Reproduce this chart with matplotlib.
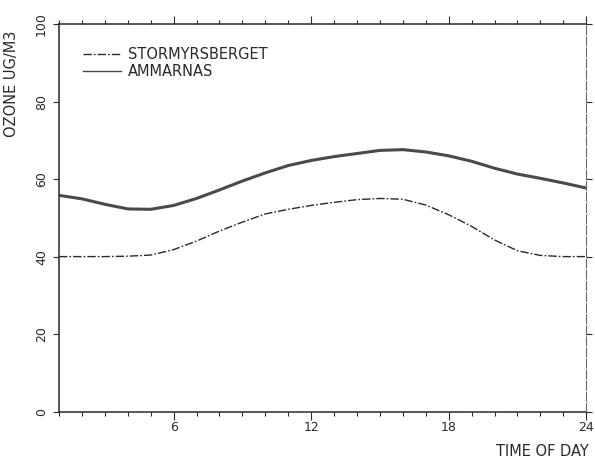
import numpy as np
import matplotlib
matplotlib.use("Agg")
import matplotlib.pyplot as plt
from matplotlib.ticker import MultipleLocator

# timmar och ozonvärden (läst ur figuren)
hours = np.arange(1, 25)
stormyrsberget = [40.0, 40.0, 40.0, 40.1, 40.4, 41.8, 44.0, 46.6, 48.9, 51.0, 52.2, 53.2,
                  54.0, 54.7, 55.0, 54.8, 53.3, 50.8, 47.8, 44.3, 41.5, 40.3, 40.0, 40.0]
ammarnas = [55.8, 54.9, 53.5, 52.3, 52.2, 53.2, 55.0, 57.2, 59.5, 61.6, 63.5, 64.8,
            65.8, 66.6, 67.4, 67.6, 67.0, 66.0, 64.6, 62.8, 61.3, 60.2, 59.0, 57.7]
series_names = ["STORMYRSBERGET", "AMMARNAS"]
x_ticks = [6, 12, 18, 24]
y_ticks = [0, 20, 40, 60, 80, 100]

ink = "#2a2a2a"
plt.rcParams['font.family'] = ['DejaVu Sans']

fig = plt.figure(figsize=(5.95, 4.63), dpi=100)
ax = fig.add_axes([0.0992, 0.111, 0.886, 0.837])

ax.plot(hours, stormyrsberget, color=ink, lw=1.0, dashes=(6, 1.5, 1.2, 1.5),
        label=series_names[0])
ax.plot(hours, ammarnas, color="#4a4a4a", lw=2.2, label=series_names[1])

ax.set_xlim(1, 24)
ax.set_ylim(0, 100)

ax.set_xticks(x_ticks)
ax.xaxis.set_minor_locator(MultipleLocator(1))
ax.set_yticks(y_ticks)

ax.tick_params(axis="both", which="both", direction="out", color=ink,
               labelcolor=ink, labelsize=9)
ax.tick_params(axis="x", which="major", length=6, width=0.8, top=True, pad=1)
ax.tick_params(axis="x", which="minor", length=3, width=0.8, top=True)
ax.tick_params(axis="y", which="major", length=4, width=0.8, right=True, pad=4)
for lab in ax.get_yticklabels():
    lab.set_rotation(90)
    lab.set_va("center")

for side in ["left", "bottom", "top"]:
    ax.spines[side].set_color(ink)
    ax.spines[side].set_linewidth(1.1)
ax.spines["right"].set_color("#666666")
ax.spines["right"].set_linewidth(0.8)
ax.spines["right"].set_linestyle((0, (8, 2)))

ax.set_ylabel("OZONE UG/M3", fontsize=10.5, color=ink)
ax.yaxis.set_label_coords(-0.076, 0.845)
fig.text(0.99, 0.024, "TIME OF DAY", fontsize=10.5, color=ink, ha="right", va="center")

leg = ax.legend(loc="upper left", bbox_to_anchor=(0.02, 0.975), frameon=False,
                handlelength=2.6, handletextpad=0.5, labelspacing=0.15, fontsize=10.5)
for t in leg.get_texts():
    t.set_color(ink)
for h in leg.legend_handles:
    h.set_linewidth(1.0)

fig.savefig("out.png", dpi=100)
